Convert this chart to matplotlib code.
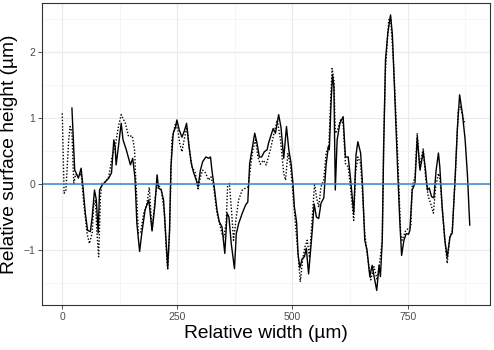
import matplotlib.pyplot as plt
from matplotlib.ticker import MultipleLocator

plt.rcParams['font.family'] = ['Liberation Sans', 'DejaVu Sans']

# solid profile
x_solid = [21, 27, 30, 35, 41, 45, 50, 55, 61, 65, 70, 74, 78, 81, 86, 93, 101, 107,
           112, 115, 117, 122, 128, 132, 139, 148, 153, 158, 162, 168, 173, 180, 188,
           195, 201, 206, 209, 215, 220, 224, 229, 233, 236, 241, 246, 249, 254, 260,
           265, 270, 275, 280, 285, 293, 295, 300, 305, 312, 318, 322, 325, 330, 336,
           341, 347, 353, 358, 362, 367, 374, 378, 383, 391, 398, 403, 407, 412, 418,
           423, 428, 433, 439, 445, 448, 458, 463, 470, 475, 481, 487, 492, 497, 501,
           504, 509, 512, 516, 521, 526, 530, 535, 543, 547, 552, 557, 562, 568, 573,
           578, 580, 584, 587, 590, 593, 597, 603, 610, 615, 621, 626, 633, 638, 642,
           648, 652, 657, 662, 668, 673, 677, 683, 688, 691, 695, 698, 702, 707, 713,
           717, 722, 728, 733, 737, 742, 747, 752, 755, 760, 766, 771, 777, 784, 789,
           793, 797, 802, 807, 812, 817, 820, 825, 831, 836, 842, 847, 853, 858, 863,
           869, 875, 880, 885]
y_solid = [1.15, 0.21, 0.17, 0.09, 0.24, -0.04, -0.44, -0.70, -0.72, -0.50, -0.09,
           -0.24, -0.74, -0.09, -0.02, 0.03, 0.09, 0.17, 0.67, 0.55, 0.29, 0.57, 0.92,
           0.67, 0.52, 0.29, 0.39, 0.09, -0.59, -1.02, -0.73, -0.39, -0.24, -0.71,
           -0.34, 0.14, -0.06, -0.09, -0.24, -0.70, -1.26, -0.70, 0.26, 0.77, 0.86,
           0.97, 0.82, 0.71, 0.80, 0.92, 0.59, 0.32, 0.18, 0.02, -0.04, 0.21, 0.34,
           0.41, 0.39, 0.41, 0.21, -0.04, -0.39, -0.57, -0.65, -1.05, -0.44, -0.50,
           -0.90, -1.28, -0.75, -0.60, -0.44, -0.32, -0.27, 0.31, 0.52, 0.77, 0.62,
           0.41, 0.41, 0.49, 0.52, 0.62, 0.84, 0.77, 1.05, 0.86, 0.39, 0.87, 0.52,
           0.31, 0.01, -0.34, -0.58, -1.05, -1.27, -1.13, -1.10, -0.97, -1.36, -0.70,
           -0.30, -0.50, -0.52, -0.29, -0.21, 0.29, 0.57, 0.52, 1.27, 1.65, 1.47,
           -0.09, 0.67, 0.92, 1.02, 0.41, 0.41, 0.09, -0.44, 0.44, 0.64, 0.47, 0.01,
           -0.85, -1.00, -1.40, -1.23, -1.39, -1.61, -1.23, -1.40, -0.85, 0.52, 1.88,
           2.28, 2.56, 2.26, 1.35, 0.29, -0.55, -1.08, -0.85, -0.75, -0.76, -0.70,
           -0.09, 0.01, 0.71, 0.21, 0.49, 0.21, -0.09, -0.06, -0.19, -0.21, 0.21,
           0.47, 0.26, -0.34, -0.85, -1.11, -0.80, -0.74, 0.06, 0.82, 1.35, 1.07,
           0.67, 0.14, -0.62]

# dotted profile
x_dotted = [0, 4, 8, 14, 17, 21, 25, 29, 35, 41, 46, 54, 59, 65, 68, 72, 75, 79, 83,
            86, 93, 101, 108, 115, 122, 128, 137, 144, 152, 157, 159, 162, 165, 170,
            177, 184, 189, 195, 202, 207, 215, 222, 226, 229, 233, 238, 246, 251, 255,
            260, 266, 271, 276, 282, 289, 295, 300, 305, 311, 318, 323, 329, 336, 347,
            351, 356, 359, 363, 368, 372, 378, 383, 391, 398, 404, 409, 414, 420, 425,
            430, 437, 443, 452, 459, 467, 474, 481, 485, 490, 496, 501, 507, 512, 517,
            522, 527, 532, 537, 543, 548, 552, 557, 562, 568, 573, 579, 583, 586, 590,
            593, 598, 604, 610, 615, 621, 626, 633, 637, 642, 648, 652, 657, 662, 670,
            677, 684, 690, 695, 698, 702, 709, 713, 720, 728, 735, 738, 746, 757, 760,
            766, 771, 776, 784, 789, 795, 800, 806, 811, 817, 820, 825, 831, 836, 842,
            847, 854, 860, 865, 870, 874]
y_dotted = [1.07, -0.14, -0.09, 0.67, 0.87, 0.79, 0.01, 0.15, 0.11, 0.16, -0.24, -0.75,
            -0.90, -0.74, -0.34, -0.24, -0.70, -1.10, -0.19, 0.01, 0.03, 0.11, 0.41,
            0.57, 0.87, 1.05, 0.92, 0.72, 0.73, 0.52, 0.17, -0.24, -0.74, -0.74, -0.44,
            -0.29, -0.05, -0.70, -0.20, 0.02, -0.09, -0.44, -1.00, -1.30, -0.74, 0.67,
            0.92, 0.82, 0.62, 0.49, 0.72, 0.86, 0.52, 0.26, 0.17, -0.09, 0.11, 0.21,
            0.17, 0.06, 0.11, -0.05, -0.44, -0.75, -0.80, -0.59, -0.04, 0.01, -0.44,
            -0.85, -0.50, -0.24, -0.09, -0.06, -0.04, 0.26, 0.52, 0.67, 0.41, 0.30,
            0.36, 0.29, 0.52, 0.74, 0.97, 0.67, 0.16, 0.06, 0.47, 0.26, -0.14, -0.65,
            -1.05, -1.48, -1.15, -0.95, -0.85, -1.11, -0.50, 0.01, -0.19, -0.35, -0.04,
            0.06, 0.47, 0.57, 1.27, 1.75, 1.58, 0.77, 0.82, 0.97, 0.92, 0.31, 0.26,
            -0.05, -0.55, 0.17, 0.41, 0.31, -0.14, -0.74, -1.05, -1.45, -1.25, -1.45,
            -1.15, -0.85, 0.62, 1.73, 2.48, 2.53, 1.78, 0.52, -0.75, -0.85, -0.70,
            -0.65, -0.04, 0.11, 0.77, 0.26, 0.54, 0.11, -0.19, -0.29, -0.44, -0.04,
            0.16, 0.11, -0.34, -0.85, -1.20, -0.80, -0.70, 0.16, 1.12, 1.17, 1.02,
            0.92]

fig = plt.figure(figsize=(4.94, 3.5), dpi=100)
ax = fig.add_axes([42 / 494, 45 / 350, 448 / 494, 302 / 350])

ax.plot(x_dotted, y_dotted, color='black', linewidth=1.0, linestyle=(0, (1, 1.3)))
ax.plot(x_solid, y_solid, color='black', linewidth=1.0)
ax.axhline(0, color='#3a84c4', linewidth=1.1)

ax.set_xlim(-44, 929)
ax.set_ylim(-1.83, 2.74)
ax.xaxis.set_major_locator(MultipleLocator(250))
ax.xaxis.set_minor_locator(MultipleLocator(125))
ax.yaxis.set_major_locator(MultipleLocator(1))
ax.yaxis.set_minor_locator(MultipleLocator(0.5))
ax.grid(which='major', color='#ebebeb', linewidth=0.8)
ax.grid(which='minor', color='#f3f3f3', linewidth=0.5)
ax.set_axisbelow(True)
ax.tick_params(which='minor', length=0)
ax.tick_params(which='major', length=3, color='#333333', width=0.6,
               labelsize=7.5, labelcolor='#4d4d4d', pad=2)
for s in ax.spines.values():
    s.set_color('#333333')
    s.set_linewidth(0.8)

ax.set_xlabel('Relative width (µm)', fontsize=13.8, labelpad=2)
ax.set_ylabel('Relative surface height (µm)', fontsize=13.8, labelpad=4)

fig.savefig('out.png', dpi=100)
